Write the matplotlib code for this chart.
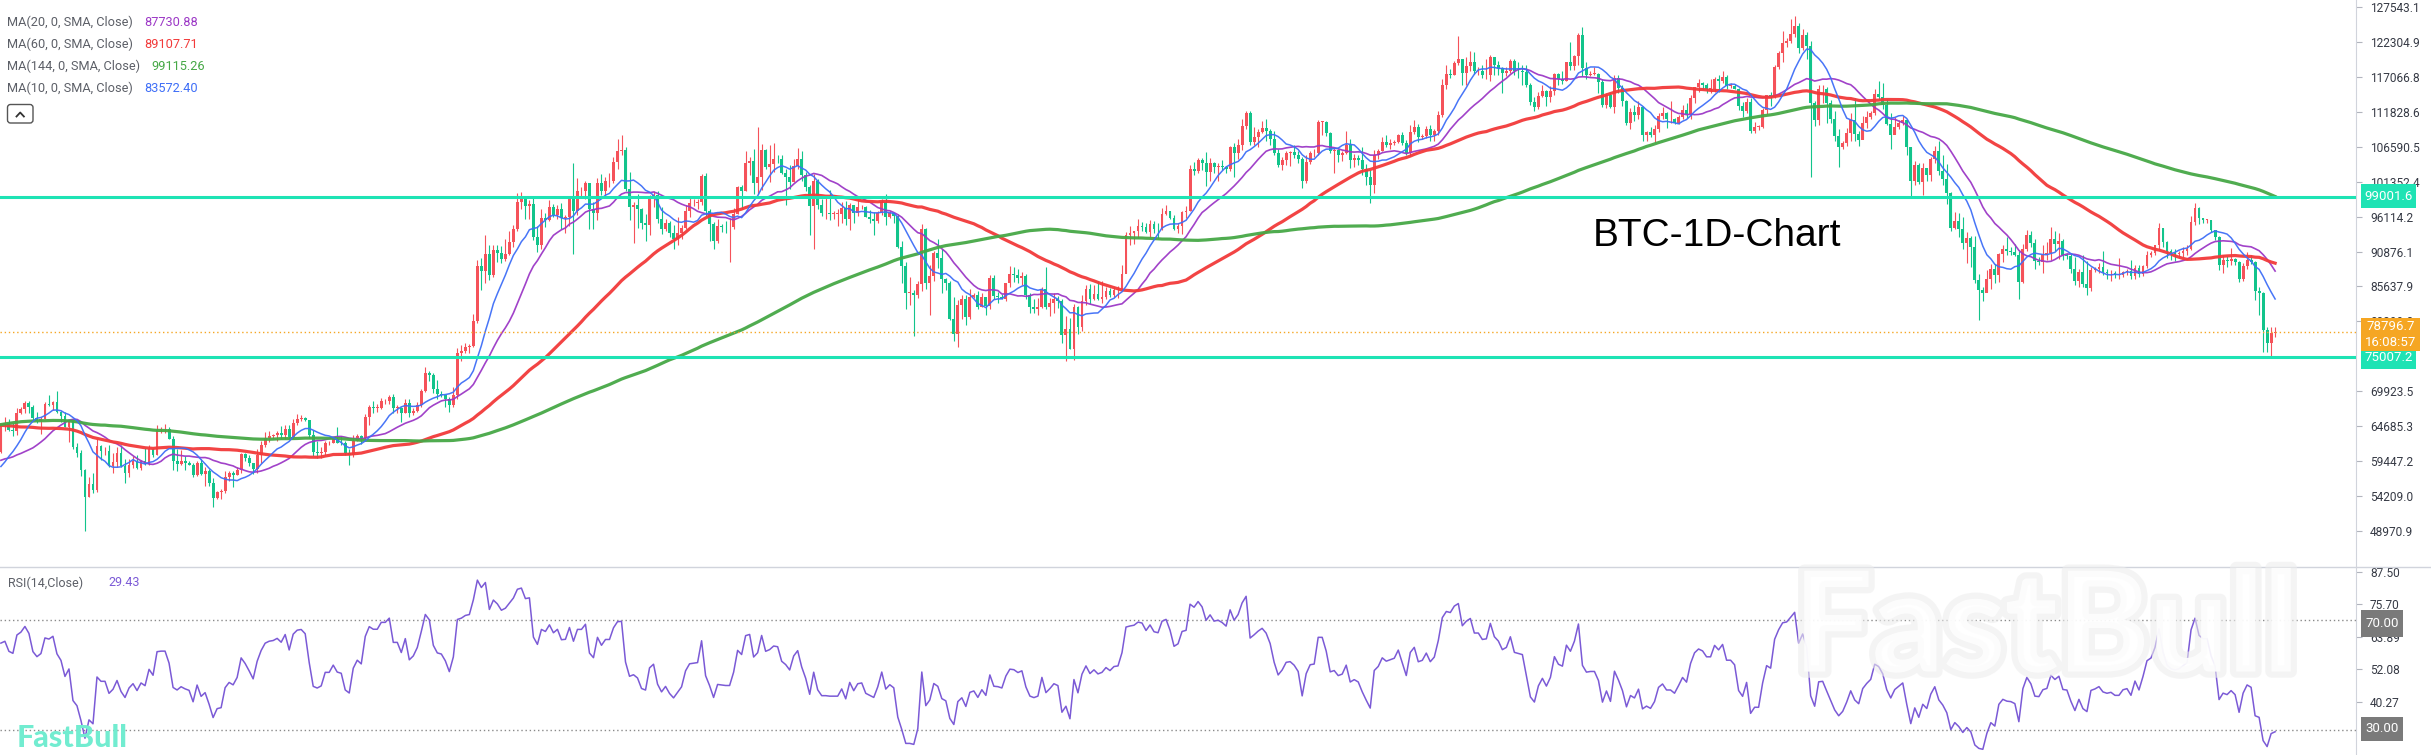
import numpy as np
import pandas as pd
import matplotlib
matplotlib.use('Agg')
import matplotlib.pyplot as plt
import matplotlib.patheffects as pe
from matplotlib.patches import FancyBboxPatch, Rectangle
from matplotlib.lines import Line2D
from matplotlib.transforms import IdentityTransform

plt.rcParams['font.family'] = ['Roboto', 'DejaVu Sans']

# --- Data: BTC daily candles, prices in thousands of USD ---
# closes before the first drawn candle (only used to warm up the MAs and RSI)
close_warmup = [
    50.7, 51.6, 51.7, 54.5, 57.1, 62.5, 61.2,
    62.4, 62.0, 63.1, 68.3, 63.8, 66.1, 66.9, 68.3, 68.5, 69.0, 72.1, 71.5, 73.1, 71.4, 69.4, 65.3,
    68.4, 67.6, 61.9, 67.9, 65.5, 63.8, 64.0, 67.2, 70.0, 69.9, 69.5, 70.8, 69.9, 69.6, 71.3,
    69.7, 65.4, 66.0, 68.5, 67.8, 68.9, 69.4, 71.6, 69.1, 70.6, 70.0, 67.1, 64.0, 65.7, 63.4,
    63.8, 61.3, 63.5, 63.8, 64.9, 64.9, 66.8, 66.4, 64.3, 64.5, 63.8, 63.4, 63.1, 63.8, 60.6,
    58.3, 59.1, 62.9, 63.9, 64.0, 63.2, 62.3, 61.2, 63.1, 60.8, 60.8, 61.5, 62.9, 61.6, 66.3,
    65.2, 67.0, 67.0, 66.3, 71.4, 70.1, 69.1, 67.9, 68.5, 69.3, 68.5, 69.4, 68.3, 67.6, 68.4, 67.5,
    67.8, 67.8, 68.8, 70.6, 71.1, 70.8, 69.4, 69.3, 69.6, 69.5, 67.3, 68.2, 66.8, 66.0, 66.2,
    66.7, 66.5, 65.2, 65.0, 64.9, 64.1, 64.3, 63.2, 60.3, 61.8, 60.9, 61.6, 60.3, 60.9, 62.7,
    62.8, 62.0, 60.2, 57.0, 56.7, 58.2, 55.8, 56.7, 58.0, 57.7, 57.3, 57.9, 59.2, 60.8,
]

# Jul 15 2024 - Dec 31 2024
close_2024 = [
    64.8, 65.1, 64.1, 63.9, 66.7, 67.2, 68.2, 67.6, 65.9, 65.4, 65.8, 68.0, 67.9, 68.3, 66.8, 66.2, 64.6,
    65.4, 61.5, 60.7, 58.1, 54.0, 56.0, 55.1, 61.7, 60.9, 60.9, 58.7, 59.3, 60.6, 58.7, 57.6, 58.9,
    59.5, 58.4, 59.4, 59.0, 61.2, 60.4, 64.1, 64.2, 64.2, 62.8, 59.4, 59.0, 59.4, 59.1, 58.9,
    57.3, 59.1, 57.5, 57.9, 56.2, 53.9, 54.8, 54.9, 57.0, 57.6, 57.3, 58.1, 60.5, 59.9, 59.1,
    58.2, 60.3, 61.8, 62.9, 63.2, 63.3, 63.6, 63.3, 64.3, 63.1, 65.2, 65.8, 65.9, 65.6, 63.3,
    60.8, 60.6, 60.8, 62.1, 62.1, 62.8, 62.2, 62.1, 60.6, 60.3, 62.4, 63.2, 62.9, 66.1, 67.6, 67.4,
    67.4, 68.4, 68.4, 69.0, 67.4, 67.4, 66.7, 68.2, 66.6, 67.0, 67.9, 69.9, 72.7, 72.3, 70.2,
    69.5, 69.4, 68.8, 67.8, 69.4, 75.6, 75.9, 76.5, 76.7, 80.4, 88.7, 87.9, 90.5, 87.3, 91.1,
    90.6, 89.8, 90.5, 92.3, 94.3, 98.3, 98.9, 97.7, 98.0, 93.0, 91.9, 95.9, 95.6, 97.5, 96.4,
    97.3, 95.9, 96.0, 98.8, 97.0, 99.9, 99.9, 101.2, 97.3, 96.6, 101.2, 100.0, 101.4, 101.4, 104.3, 106.0,
    106.1, 100.2, 97.5, 97.8, 97.2, 95.2, 94.9, 98.7, 99.4, 95.8, 94.2, 95.1, 93.7, 92.8, 93.6,
]
high_2024 = [
    65.0, 66.1, 65.8, 65.1, 67.4, 67.6, 68.4, 68.5, 67.8, 66.8, 66.1, 68.3, 69.4, 68.5, 70.0, 66.9, 66.8,
    65.6, 65.6, 62.2, 61.1, 58.3, 57.1, 57.7, 62.8, 61.8, 61.5, 61.8, 60.7, 61.5, 61.8, 59.8, 59.8,
    60.2, 60.3, 59.6, 61.4, 61.8, 61.4, 64.9, 64.5, 65.0, 64.5, 63.2, 61.2, 61.1, 60.2, 59.5,
    59.1, 59.4, 59.8, 58.5, 58.3, 56.9, 55.0, 55.3, 58.0, 58.0, 57.9, 58.5, 60.7, 60.6, 60.4,
    59.2, 61.3, 62.5, 63.8, 64.0, 63.5, 64.0, 64.7, 64.8, 64.8, 65.8, 66.5, 66.3, 66.0, 65.6,
    64.1, 62.4, 61.5, 62.5, 62.4, 63.0, 64.5, 63.2, 62.5, 61.3, 63.4, 63.5, 63.3, 66.5, 67.9, 68.4,
    68.0, 68.9, 68.7, 69.4, 69.5, 67.8, 67.5, 68.8, 68.8, 67.4, 68.3, 70.2, 73.6, 72.9, 72.7,
    71.6, 70.0, 69.4, 69.0, 70.6, 76.4, 76.9, 77.2, 77.0, 81.5, 89.6, 89.9, 93.4, 91.8, 91.9,
    91.8, 91.7, 92.7, 94.0, 94.9, 99.6, 99.8, 98.7, 98.6, 98.9, 94.7, 97.2, 96.6, 98.6, 98.0,
    97.9, 98.2, 96.3, 99.0, 104.1, 101.9, 100.5, 101.4, 101.2, 98.3, 101.9, 102.5, 102.0, 102.6, 105.1, 107.8,
    108.3, 106.5, 102.8, 98.3, 99.5, 97.4, 96.5, 99.4, 99.9, 99.9, 97.5, 95.7, 95.4, 94.9, 96.1,
]
low_2024 = [
    60.6, 63.9, 63.9, 63.2, 63.3, 66.5, 66.6, 66.6, 65.5, 65.1, 63.5, 65.7, 67.7, 67.1, 66.6, 65.3, 64.5,
    62.3, 61.3, 60.1, 57.2, 49.0, 54.0, 54.6, 54.8, 59.6, 60.3, 58.5, 57.6, 58.5, 58.5, 56.1, 57.1,
    58.4, 58.3, 58.1, 58.9, 58.9, 60.0, 60.4, 63.7, 63.6, 62.8, 58.1, 57.9, 58.9, 58.1, 58.8,
    57.1, 57.2, 57.4, 55.7, 55.7, 52.6, 53.8, 53.7, 54.6, 56.4, 55.6, 57.4, 57.7, 59.4, 58.7,
    57.5, 57.7, 59.2, 61.6, 62.3, 62.7, 62.4, 62.7, 62.7, 62.8, 62.8, 64.8, 65.5, 65.4, 62.9,
    60.2, 59.9, 59.9, 60.4, 61.8, 62.1, 62.1, 61.8, 60.3, 58.9, 60.1, 62.4, 62.0, 62.4, 64.8, 66.6,
    66.8, 67.3, 68.0, 68.0, 66.6, 66.6, 65.3, 66.6, 66.0, 66.4, 66.8, 67.6, 69.8, 71.5, 69.7,
    68.7, 69.0, 67.5, 66.8, 67.5, 68.8, 74.4, 75.7, 75.6, 76.5, 80.2, 85.1, 86.2, 86.6, 87.1,
    89.3, 89.1, 89.4, 90.4, 91.6, 94.0, 97.2, 95.8, 95.7, 92.6, 90.8, 91.2, 94.6, 95.4, 96.0,
    95.7, 94.2, 93.6, 94.7, 90.5, 96.4, 99.0, 98.7, 94.2, 94.3, 95.6, 99.3, 99.2, 100.6, 101.2, 103.3,
    105.3, 100.0, 95.6, 92.2, 94.4, 94.3, 92.5, 93.3, 97.6, 95.1, 93.5, 93.9, 93.1, 91.3, 91.9,
]

# Jan 1 2025 - Jun 30 2025
close_2025a = [
    94.4, 96.9, 98.1, 98.2, 98.3, 102.2, 96.9, 95.0, 92.5, 94.7, 94.6, 94.5, 94.5, 96.5, 100.5, 99.9,
    104.1, 104.4, 101.1, 102.0, 106.1, 103.6, 104.0, 104.8, 104.7, 102.6, 102.1, 101.3, 103.7, 104.7, 102.4,
    100.6, 97.7, 101.4, 97.9, 96.6, 96.6, 96.5, 96.5, 96.5, 97.4, 95.8, 97.9, 96.6, 97.5,
    97.6, 96.1, 95.8, 95.5, 96.6, 98.3, 96.1, 96.6, 96.2, 91.5, 88.7, 84.7, 84.7, 84.4,
    86.0, 94.2, 86.1, 87.2, 90.6, 89.9, 86.7, 86.1, 80.7, 78.5, 82.9, 83.7, 81.1, 84.0, 84.3, 82.6,
    84.1, 82.7, 86.9, 84.2, 84.1, 83.8, 86.1, 87.5, 87.4, 86.9, 87.2, 84.4, 82.6, 82.3, 82.5,
    85.2, 82.5, 83.1, 83.8, 83.5, 78.4, 79.2, 76.3, 82.6, 79.6, 83.4, 85.3, 83.7, 84.5, 83.7,
    84.0, 84.9, 84.4, 85.1, 85.2, 87.5, 93.4, 93.7, 93.9, 94.7, 94.6, 93.8, 95.0, 94.3, 94.2,
    96.5, 96.9, 95.9, 94.3, 94.7, 96.8, 97.0, 103.2, 102.9, 104.6, 104.1, 102.8, 104.1, 103.5, 103.7, 103.5,
    103.2, 106.5, 105.6, 106.8, 109.7, 111.7, 107.3, 108.0, 108.8, 109.4, 108.9, 107.8, 105.6, 103.9, 104.6,
    105.7, 105.8, 105.4, 104.7, 101.5, 104.3, 105.6, 105.7, 110.3, 110.3, 108.7, 105.9, 106.1, 105.4, 105.6,
    106.8, 104.6, 104.9, 104.6, 103.3, 102.1, 100.9, 105.4, 106.0, 107.3, 106.9, 107.1, 107.3, 108.4, 107.1,
]
high_2025a = [
    94.9, 97.8, 98.9, 98.7, 98.8, 102.5, 102.7, 97.3, 95.3, 95.8, 95.0, 95.4, 95.9, 97.4, 100.7, 100.9,
    105.9, 105.0, 106.3, 109.6, 107.0, 106.3, 106.8, 107.1, 105.3, 105.4, 103.2, 103.8, 104.8, 106.4, 106.0,
    102.8, 100.8, 102.5, 101.7, 98.8, 99.2, 100.1, 96.9, 97.3, 98.3, 98.5, 98.1, 97.9, 98.8,
    97.9, 97.7, 97.1, 96.8, 96.9, 98.8, 99.5, 96.9, 96.7, 96.5, 92.5, 89.3, 87.0, 85.1,
    86.5, 95.0, 94.4, 88.9, 91.0, 92.8, 91.3, 86.9, 86.5, 84.0, 83.6, 84.3, 84.3, 85.2, 84.7, 85.0,
    84.6, 84.1, 87.4, 87.4, 84.8, 84.5, 86.2, 88.7, 88.5, 88.3, 87.8, 87.5, 84.6, 83.8, 83.9,
    85.5, 88.5, 83.9, 84.7, 84.2, 83.8, 81.2, 80.9, 83.0, 82.7, 84.3, 85.9, 86.0, 85.8, 86.5,
    86.4, 85.5, 85.4, 85.6, 85.7, 88.8, 93.8, 94.7, 94.0, 95.8, 95.3, 95.2, 95.6, 95.5, 95.2,
    97.4, 97.9, 96.9, 96.3, 95.1, 96.9, 97.7, 103.9, 104.3, 104.9, 104.9, 105.8, 104.9, 104.3, 104.2, 104.6,
    103.7, 106.7, 107.1, 107.7, 110.8, 111.9, 111.9, 109.5, 109.3, 110.4, 110.7, 109.3, 108.9, 106.3, 105.0,
    105.9, 105.9, 106.8, 105.9, 105.0, 105.3, 106.0, 106.3, 110.6, 110.4, 110.4, 108.8, 106.4, 106.2, 106.0,
    108.9, 107.7, 105.5, 105.3, 106.6, 104.0, 103.1, 106.1, 106.3, 108.1, 108.3, 107.8, 107.6, 108.5, 108.8,
]
low_2025a = [
    92.7, 94.2, 96.0, 97.7, 97.3, 97.9, 96.2, 92.5, 91.2, 92.2, 93.8, 93.7, 89.3, 94.3, 96.5, 97.3,
    100.0, 102.3, 99.5, 99.5, 100.1, 103.3, 101.3, 102.8, 104.1, 102.5, 97.8, 100.3, 101.3, 103.3, 101.5,
    100.0, 93.4, 91.2, 97.3, 96.2, 95.7, 95.6, 95.7, 94.7, 95.2, 94.9, 94.1, 95.2, 96.2,
    97.2, 96.0, 95.1, 93.4, 95.2, 96.3, 94.9, 95.9, 95.2, 91.4, 86.2, 82.3, 82.8, 78.2,
    83.9, 85.0, 85.2, 81.4, 86.4, 88.4, 84.7, 85.1, 80.6, 77.5, 76.6, 80.8, 79.9, 80.8, 83.9, 82.3,
    82.5, 81.3, 82.2, 83.7, 83.2, 83.7, 83.5, 85.5, 86.3, 86.2, 85.9, 83.7, 81.6, 81.6, 81.3,
    82.4, 82.3, 81.2, 81.6, 82.4, 77.2, 74.5, 76.2, 74.6, 78.5, 78.9, 82.9, 83.0, 83.6, 83.6,
    83.2, 83.8, 84.1, 84.1, 83.9, 85.1, 87.6, 91.8, 92.0, 92.9, 93.9, 93.6, 92.9, 93.7, 92.9,
    94.1, 96.4, 95.7, 94.1, 93.6, 93.5, 95.9, 96.9, 102.3, 102.7, 103.1, 100.7, 101.4, 102.6, 101.4, 103.1,
    102.6, 102.9, 102.0, 104.8, 106.1, 109.3, 106.9, 106.9, 106.6, 108.6, 107.5, 106.9, 105.4, 103.6, 103.1,
    103.8, 103.7, 104.9, 104.1, 100.4, 101.2, 104.0, 105.0, 105.3, 108.4, 108.2, 105.6, 102.6, 104.3, 104.5,
    105.5, 103.4, 103.6, 103.9, 102.4, 100.8, 98.2, 99.6, 104.7, 105.9, 106.6, 106.2, 106.8, 107.1, 106.8,
]

# Jul 1 2025 - Dec 31 2025
close_2025b = [
    105.7, 108.8, 109.6, 108.0, 108.2, 109.2, 108.3, 108.9, 111.3, 115.9, 117.5, 117.4, 119.1, 119.8, 117.7, 118.7,
    119.3, 117.9, 117.9, 117.3, 117.4, 120.0, 118.8, 118.4, 117.6, 117.9, 119.4, 118.0, 117.9, 117.8, 115.8,
    113.3, 112.6, 114.2, 115.0, 114.1, 115.0, 117.5, 116.7, 116.5, 119.3, 118.7, 120.2, 123.3, 118.4, 117.4, 117.5,
    117.5, 116.3, 112.9, 114.3, 112.5, 116.9, 115.4, 113.5, 110.1, 111.8, 111.3, 112.6, 108.4, 108.8, 108.3,
    109.2, 111.2, 111.7, 110.7, 110.7, 110.2, 111.1, 112.1, 111.5, 113.9, 115.5, 116.1, 115.9, 115.3, 115.3,
    116.8, 116.4, 117.1, 115.7, 115.7, 115.3, 112.7, 112.0, 113.3, 109.0, 109.6, 109.6, 112.1, 114.3, 114.0,
    118.6, 120.6, 122.2, 122.4, 123.5, 124.7, 121.4, 123.3, 121.7, 113.2, 110.6, 115.2, 115.3, 113.1, 110.8, 108.2,
    106.5, 107.2, 108.7, 110.6, 108.5, 107.6, 110.1, 111.0, 111.7, 114.5, 114.1, 112.9, 110.0, 108.3, 109.6,
    110.1, 110.6, 106.5, 101.5, 103.9, 101.3, 103.4, 102.3, 104.7, 106.0, 103.0, 101.7, 99.7, 94.4, 95.5,
    94.2, 92.2, 92.9, 91.5, 86.6, 85.1, 84.7, 86.8, 88.3, 87.3, 90.5, 91.3, 90.9, 90.8, 90.4,
    86.3, 91.3, 93.4, 92.1, 89.4, 89.3, 90.4, 90.6, 92.7, 92.0, 92.5, 90.3, 90.2, 88.2, 86.4, 87.8,
    86.0, 85.4, 88.1, 88.3, 88.6, 87.8, 87.6, 87.7, 87.3, 87.3, 87.8, 87.9, 87.2, 88.4, 87.5,
]
high_2025b = [
    107.6, 109.8, 110.6, 110.0, 108.5, 109.7, 109.8, 109.2, 111.9, 116.8, 118.9, 118.3, 119.5, 123.2, 119.5, 120.0,
    120.9, 120.8, 118.5, 118.9, 119.7, 120.3, 120.1, 119.5, 118.5, 118.5, 119.8, 119.8, 119.3, 118.8, 118.9,
    116.1, 114.0, 114.8, 115.8, 115.1, 115.7, 117.7, 117.7, 117.9, 119.3, 122.3, 120.3, 123.6, 124.5, 119.3, 118.0,
    118.6, 117.6, 116.8, 114.6, 114.8, 117.4, 117.4, 115.8, 113.6, 112.4, 112.8, 113.5, 112.7, 108.9, 109.5,
    109.9, 111.6, 112.6, 111.8, 113.4, 110.9, 111.3, 112.9, 113.2, 114.3, 115.6, 116.8, 116.3, 116.1, 116.7,
    117.0, 117.3, 117.9, 117.4, 116.2, 116.0, 115.4, 113.3, 113.9, 113.9, 110.3, 109.8, 112.4, 114.4, 114.8,
    118.8, 121.0, 123.9, 122.9, 125.7, 126.2, 125.1, 124.2, 123.8, 122.5, 113.5, 115.8, 115.9, 115.6, 113.6, 111.9,
    109.2, 107.5, 109.4, 111.7, 113.9, 109.0, 111.2, 112.0, 111.9, 115.3, 116.4, 116.1, 113.7, 111.6, 111.1,
    110.6, 111.2, 110.8, 106.6, 104.5, 104.2, 104.1, 103.4, 105.0, 106.7, 107.5, 105.3, 104.0, 99.8, 96.8,
    96.6, 96.0, 93.8, 93.2, 93.2, 87.5, 85.6, 88.1, 89.0, 89.0, 90.7, 91.9, 93.0, 91.6, 92.0,
    91.0, 92.0, 94.1, 94.0, 92.7, 90.0, 91.8, 92.3, 94.6, 94.0, 93.6, 92.7, 90.6, 90.5, 90.0, 88.2,
    90.4, 89.4, 88.6, 88.6, 89.1, 90.9, 88.2, 88.1, 87.9, 89.9, 88.0, 88.2, 89.6, 88.8, 88.9,
]
low_2025b = [
    105.3, 105.2, 108.5, 107.3, 107.8, 107.9, 107.5, 107.5, 108.4, 111.0, 115.2, 116.9, 117.3, 118.8, 115.8, 115.8,
    117.9, 117.5, 117.4, 116.9, 116.7, 116.5, 117.3, 117.3, 114.7, 117.2, 117.7, 117.4, 116.9, 115.9, 115.6,
    112.8, 112.0, 112.2, 114.0, 112.7, 113.3, 114.3, 115.8, 116.0, 116.5, 118.1, 118.1, 118.9, 117.2, 116.8, 117.2,
    117.3, 114.7, 112.6, 112.4, 112.4, 111.7, 114.6, 112.7, 109.8, 109.3, 110.5, 110.7, 107.5, 107.4, 108.1,
    107.3, 108.8, 110.8, 109.4, 110.1, 110.0, 110.0, 110.8, 110.9, 110.8, 113.2, 114.8, 115.2, 114.6, 114.6,
    114.8, 114.8, 116.1, 115.3, 115.4, 115.2, 112.1, 111.1, 111.6, 108.6, 108.6, 109.1, 109.4, 111.5, 112.7,
    113.9, 118.3, 119.3, 121.6, 122.1, 123.0, 120.6, 121.1, 119.7, 102.0, 109.7, 109.8, 113.1, 110.1, 110.1, 107.4,
    103.5, 106.3, 106.7, 107.4, 107.4, 106.7, 107.7, 109.4, 110.7, 111.3, 113.7, 112.2, 109.8, 106.3, 108.5,
    109.3, 109.8, 105.3, 98.9, 100.8, 101.0, 99.3, 101.4, 101.4, 104.2, 102.4, 100.8, 98.0, 94.0, 94.2,
    93.0, 91.2, 89.2, 88.6, 86.2, 80.6, 83.5, 84.8, 85.3, 86.1, 86.3, 89.3, 90.4, 90.3, 90.2,
    83.8, 86.2, 90.9, 91.5, 88.2, 88.9, 87.7, 89.6, 89.6, 91.0, 89.8, 89.6, 89.8, 87.6, 85.8, 85.5,
    85.5, 84.4, 84.9, 87.8, 87.6, 87.4, 86.7, 86.5, 86.9, 86.7, 87.1, 87.3, 86.8, 86.8, 87.0,
]

# Jan 1 2026 - Feb 3 2026 (last candle still open)
close_2026 = [
    88.7, 90.3, 90.6, 91.8, 94.4, 92.3, 91.0, 90.6, 90.5, 90.6, 90.9, 91.2, 95.3, 97.4, 95.9, 95.6, 95.6,
    94.1, 93.1, 88.9, 89.6, 89.4, 89.8, 89.3, 86.8, 88.7, 89.6, 89.3, 84.9, 84.6, 79.1, 77.2, 78.6, 78.8,
]
high_2026 = [
    88.9, 90.9, 90.9, 91.9, 95.1, 94.4, 92.5, 91.2, 91.2, 90.9, 91.5, 91.9, 96.2, 98.2, 97.6, 95.9, 95.8,
    95.6, 94.1, 93.2, 90.3, 90.2, 91.4, 89.9, 89.5, 89.1, 90.8, 90.3, 89.4, 85.5, 84.8, 79.6, 79.6, 79.6,
]
low_2026 = [
    87.2, 88.4, 90.0, 90.4, 91.3, 91.6, 89.9, 89.6, 89.4, 90.0, 90.1, 90.3, 91.1, 94.8, 95.0, 95.1, 95.1,
    93.8, 92.6, 88.1, 87.6, 88.6, 88.9, 88.8, 86.3, 86.5, 88.3, 89.0, 83.6, 81.4, 75.8, 75.8, 74.9, 78.1,
]

ma_periods = [20, 60, 144, 10]
ma_values = ['87730.88', '89107.71', '99115.26', '83572.40']
ma_colors = ['#9c38c6', '#f23a3a', '#46a846', '#3e6ef7']
ma_widths = [1.2, 2.3, 2.3, 1.1]
rsi_value = '29.43'
last_price = 78796.7
countdown = '16:08:57'
levels = [99001.6, 75007.2]
# ticks that are not hidden behind the price boxes
price_ticks = ['127543.1', '122304.9', '117066.8', '111828.6', '106590.5', '101352.4', '96114.2',
               '90876.1', '85637.9', '80399.8', '69923.5', '64685.3', '59447.2',
               '54209.0', '48970.9']
rsi_ticks = ['87.50', '75.70', '63.89', '52.08', '40.27']

# --- Build series ---
close = np.array(close_2024 + close_2025a + close_2025b + close_2026) * 1000
high = np.array(high_2024 + high_2025a + high_2025b + high_2026) * 1000
low = np.array(low_2024 + low_2025a + low_2025b + low_2026) * 1000
assert len(close) == len(high) == len(low)
opn = np.concatenate([[close_warmup[-1] * 1000], close[:-1]])

full = pd.Series(np.array(close_warmup + close_2024 + close_2025a + close_2025b + close_2026) * 1000)
n_pre = len(close_warmup)
mas = [full.rolling(p).mean().values[n_pre:] for p in ma_periods]

delta = full.diff()
gain = delta.clip(lower=0).ewm(alpha=1 / 14, adjust=False).mean()
loss = (-delta.clip(upper=0)).ewm(alpha=1 / 14, adjust=False).mean()
rsi = (100 - 100 / (1 + gain / loss)).values[n_pre:]

x = np.arange(len(close))

# --- Figure layout (pixel based) ---
W, H = 2431, 755
AX_R = 2356       # right edge of the plot area
SPLIT = 567       # border between price and RSI panels
fig = plt.figure(figsize=(W / 100, H / 100), dpi=100)
ax = fig.add_axes([0, 1 - SPLIT / H, AX_R / W, SPLIT / H])
axr = fig.add_axes([0, 0, AX_R / W, (H - SPLIT) / H])

xmin, xmax = -0.225, 588.2
for a in (ax, axr):
    a.set_xlim(xmin, xmax)
    for s in ('top', 'left', 'bottom'):
        a.spines[s].set_visible(False)
    a.spines['right'].set_color('#d1d4dc')
    a.yaxis.tick_right()
    a.set_xticks([])
    a.tick_params(axis='y', length=4, color='#b2b5be', labelsize=8.6, labelcolor='#363a45', pad=6)

ax.set_ylim(43571, 128593)
axr.set_ylim(20.86, 89.3)

# candles: red = up, green = down
up = close >= opn
cols = np.where(up, '#f5525a', '#12c48b')
body = np.abs(close - opn)
body = np.where(body < 120, 120, body)
ax.vlines(x, low, high, colors=cols, linewidth=0.8, zorder=2)
ax.bar(x, body, bottom=np.minimum(opn, close), width=0.72, color=cols, linewidth=0, zorder=3)

for ma, c, lw in zip(mas, ma_colors, ma_widths):
    ax.plot(x, ma, color=c, lw=lw, zorder=4, alpha=0.95)

for lv in levels:
    ax.axhline(lv, color='#1ee3b4', lw=2.2, zorder=5)
ax.axhline(last_price, color='#f5a623', lw=1.0, ls=(0, (1, 2)), zorder=5)

ax.set_yticks([float(t) for t in price_ticks])
ax.set_yticklabels(price_ticks)

# RSI panel
axr.plot(x, rsi, color='#7b5ad6', lw=1.1, zorder=3)
for lv in (70, 30):
    axr.axhline(lv, color='#8a8a8a', lw=1.0, ls=(0, (1, 2)), zorder=2)
axr.set_yticks([float(t) for t in rsi_ticks])
axr.set_yticklabels(rsi_ticks)

# separator across the full width
fig.add_artist(Line2D([0, W], [H - SPLIT, H - SPLIT], transform=IdentityTransform(), color='#d1d4dc', lw=1))


def fx(px):
    return px / W


def fy(py):
    return 1 - py / H


def price_box(y0, y1, color, lines, z=1, x1=2416):
    fig.add_artist(Rectangle((2361, H - y1), x1 - 2361, y1 - y0, transform=IdentityTransform(),
                             facecolor=color, edgecolor='none', zorder=z))
    n = len(lines)
    for k, t in enumerate(lines):
        yc = y0 + (y1 - y0) * (k + 0.5) / n
        fig.text(fx((2361 + x1) / 2), fy(yc), t, color='white', fontsize=9.5,
                 ha='center', va='center', zorder=z + 0.5)


price_box(184, 208, '#1ee3b4', ['99001.6'])
price_box(345, 369, '#1ee3b4', ['75007.2'])
price_box(318, 351, '#f5a623', ['78796.7', countdown], z=4, x1=2420)
price_box(610, 637, '#7a7a7a', ['70.00'], x1=2403)
price_box(717, 741, '#7a7a7a', ['30.00'], x1=2403)

# legend
labels = ['MA(20, 0, SMA, Close)', 'MA(60, 0, SMA, Close)', 'MA(144, 0, SMA, Close)', 'MA(10, 0, SMA, Close)']
val_x = [144, 144, 151, 144]
for k, (lab, val, c) in enumerate(zip(labels, ma_values, ma_colors)):
    yy = 22.7 + k * 21.9
    fig.text(fx(7), fy(yy), lab, color='#5d6068', fontsize=9.2, va='center')
    fig.text(fx(val_x[k]), fy(yy), val, color=c, fontsize=9.2, va='center')

fig.add_artist(FancyBboxPatch((7.5, H - 123), 25.5, 18.5, boxstyle='round,pad=0,rounding_size=3',
                              transform=IdentityTransform(), facecolor='white', edgecolor='#555',
                              lw=1.0, zorder=3))
fig.add_artist(Line2D([16.5, 20.2, 23.9], [H - 116.5, H - 112.5, H - 116.5], transform=IdentityTransform(),
                      color='#333', lw=1.3, zorder=4))

fig.text(fx(8), fy(583), 'RSI(14,Close)', color='#5d6068', fontsize=9, va='center')
fig.text(fx(108), fy(583), rsi_value, color='#7b5ad6', fontsize=9, va='center')

fig.text(fx(1593), fy(246), 'BTC-1D-Chart', fontsize=28, color='black',
         family=['Liberation Sans', 'DejaVu Sans'], va='baseline')

# watermarks
fig.text(fx(2046), fy(631), 'FastBull', fontsize=100, fontweight='black', family=['Lato', 'DejaVu Sans'],
         color='white', alpha=0.8, ha='center', va='center', zorder=3,
         path_effects=[pe.withStroke(linewidth=9, foreground='#eeeeee', alpha=0.6)])
fig.text(fx(17), fy(747), 'FastBull', fontsize=22, fontweight='black', family=['Lato', 'DejaVu Sans'],
         color='#72ecd0', va='baseline', zorder=3)

fig.savefig('out.png', dpi=100, facecolor='white')
